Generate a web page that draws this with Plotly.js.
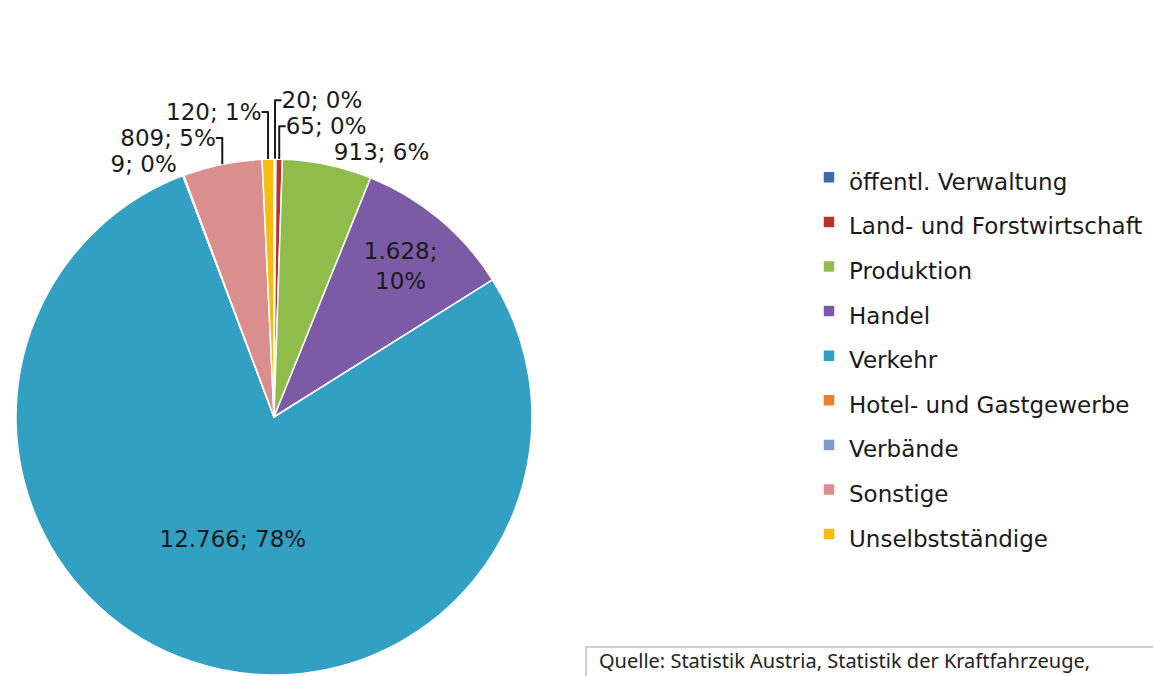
<!DOCTYPE html>
<html>
<head>
<meta charset="utf-8">
<script src="https://cdn.plot.ly/plotly-3.0.1.min.js"></script>
<style>
html,body{margin:0;padding:0;background:#fff;overflow:hidden;}
#chart{width:1153px;height:676px;}
</style>
</head>
<body>
<div id="chart"></div>
<script>
const categories = ["öffentl. Verwaltung", "Land- und Forstwirtschaft", "Produktion", "Handel", "Verkehr", "Hotel- und Gastgewerbe", "Verbände", "Sonstige", "Unselbstständige"];
const legendLabels = ["öffentl. Verwaltung", "Land- und Forstwirtschaft", "Produktion", "Handel", "Verkehr", "Hotel- und Gastgewerbe", "Verbände", "Sonstige", "Unselbstständige"];
const vehicles = [20, 65, 913, 1628, 12766, 9, 0, 809, 120];
const sliceColors = ["#3c6db0", "#b8312f", "#8fbc4a", "#7b5aa6", "#31a0c2", "#e8812f", "#7f9bcc", "#da8e8d", "#f7bc0c"];
const sourceNote = "Quelle: Statistik Austria, Statistik der Kraftfahrzeuge,";

const total = vehicles.reduce((a, b) => a + b, 0);
const templates = vehicles.map((v, i) => {
  if (v === 0) return "";
  if (categories[i] === "Handel") return "%{value:,.0f};<br>%{percent:.0%}";
  return "%{value:,.0f}; %{percent:.0%}";
});
const positions = vehicles.map((v) => {
  if (v === 0) return "none";
  return v / total > 0.08 ? "inside" : "outside";
});

const W = 1153, H = 676;
const trace = {
  type: "pie",
  labels: categories.map((c, i) => '<span style="font-size:23px">' + legendLabels[i] + '</span>'),
  values: vehicles,
  sort: false,
  direction: "clockwise",
  rotation: 0,
  marker: {colors: sliceColors, line: {color: "#ffffff", width: 1.5}},
  texttemplate: templates,
  textposition: positions,
  insidetextorientation: "horizontal",
  insidetextfont: {family: "DejaVu Sans", size: 23, color: "#1a1a1a"},
  outsidetextfont: {family: "DejaVu Sans", size: 23, color: "#1a1a1a"},
  hoverinfo: "label+value+percent",
  domain: {x: [16 / W, 532 / W], y: [1 / H, (H - 159) / H]}
};

const layout = {
  width: W, height: H,
  margin: {l: 0, r: 0, t: 0, b: 0},
  paper_bgcolor: "#ffffff",
  separators: ",.",
  showlegend: true,
  legend: {
    x: 809 / W, xanchor: "left",
    y: (H - 150) / H, yanchor: "top",
    font: {family: "DejaVu Sans", size: 32, color: "#1a1a1a"},
    bgcolor: "rgba(0,0,0,0)"
  },
  shapes: [{
    type: "rect", xref: "paper", yref: "paper",
    x0: 586 / W, x1: 1.02, y0: -0.05, y1: (H - 647) / H,
    line: {color: "#c0c0c0", width: 1.5}, fillcolor: "rgba(0,0,0,0)"
  }],
  annotations: [{
    text: sourceNote, xref: "paper", yref: "paper",
    x: 597 / W, xanchor: "left", y: 0, yanchor: "bottom",
    showarrow: false,
    font: {family: "Noto Sans", size: 20, color: "#222"}
  }]
};

Plotly.newPlot("chart", [trace], layout, {displayModeBar: false, staticPlot: true});
</script>
</body>
</html>
